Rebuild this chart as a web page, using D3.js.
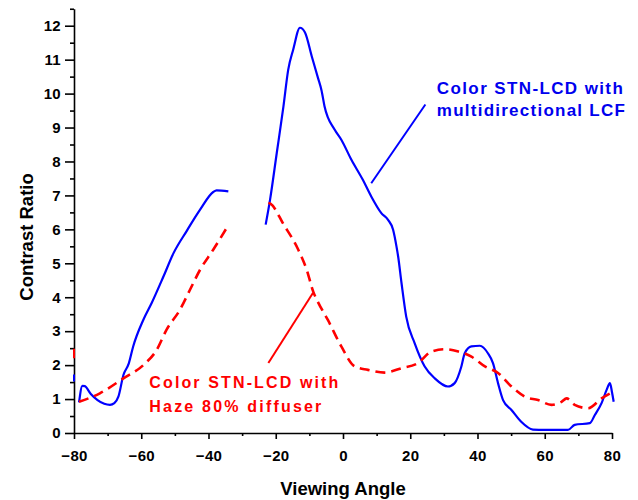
<!DOCTYPE html>
<html><head><meta charset="utf-8">
<script src="https://cdn.jsdelivr.net/npm/d3@7"></script>
<style>
body{margin:0;background:#fff;}
svg{display:block;font-family:"Liberation Sans",Arial,sans-serif;}
</style></head>
<body><svg id="c" width="638" height="500"></svg>
<script>
// ---- data ----
const xTicks = [-80,-60,-40,-20,0,20,40,60,80];
const xMinorTicks = [-70,-50,-30,-10,10,30,50,70];
const yTicks = [0,1,2,3,4,5,6,7,8,9,10,11,12];
const yMinorTicks = [0.5,1.5,2.5,3.5,4.5,5.5,6.5,7.5,8.5,9.5,10.5,11.5,12.5];

const lcfSeg1 = [[-78.5,0.9],[-77.5,1.39],[-76.8,1.38],[-75,1.15],[-73,0.97],[-71,0.86],[-69.3,0.83],[-68,0.88],[-66.8,1.07],[-65.3,1.71],[-63.7,2.05],[-62.4,2.55],[-59.4,3.33],[-56.9,3.83],[-53.4,4.61],[-50.4,5.3],[-46.5,5.95],[-42.5,6.58],[-38.6,7.1],[-37.6,7.15],[-34.1,7.12]];
const lcfSeg2 = [[-23.0,6.14],[-21.7,6.87],[-19.7,8.25],[-17.7,9.63],[-16.3,10.7],[-14.8,11.3],[-12.8,11.94],[-11.3,11.8],[-9.3,11.1],[-7.4,10.45],[-6.4,10.1],[-5.5,9.63],[-2.5,8.94],[-0.5,8.64],[2.5,8.05],[5.9,7.46],[8.4,6.97],[11.4,6.48],[13.4,6.28],[14.9,5.99],[15.9,5.5],[16.4,5.2],[17.4,4.42],[18.8,3.43],[21.3,2.65],[24.3,1.96],[27.3,1.61],[31.2,1.37],[33.2,1.47],[35.2,1.96],[36.2,2.35],[38.2,2.55],[40.7,2.57],[43.1,2.35],[44.6,2.06],[46.1,1.47],[47.6,0.97],[50.1,0.68],[53.0,0.33],[56.5,0.1],[60,0.09],[66.9,0.09],[68.9,0.24],[73.4,0.29],[74.9,0.53],[76.9,0.88],[78.4,1.27],[79.4,1.47],[80.0,1.2],[80.5,0.92]];
const lcfEdge = [[-80,1.72],[-80,1.52]];

const hazeSeg1 = [[-78.5,0.92],[-72.3,1.17],[-65.3,1.61],[-59.4,2.0],[-55.4,2.45],[-52.5,3.04],[-48.5,3.63],[-45.5,4.22],[-42.5,4.81],[-38.6,5.4],[-34.6,6.04]];
const hazeSeg2 = [[-22.2,6.78],[-21.5,6.75],[-17.7,6.15],[-13.3,5.4],[-10.8,4.81],[-8.8,4.15],[-7.4,3.85],[-4.5,3.33],[-0.5,2.55],[3.5,1.96],[7.4,1.86],[12.4,1.78],[17.4,1.91],[22.3,2.06],[26.3,2.4],[30.3,2.47],[34.3,2.4],[38.2,2.25],[42.2,1.96],[46.1,1.77],[50.1,1.37],[54.1,1.07],[58.0,0.97],[62.0,0.83],[65.0,0.92],[66.5,1.02],[68.9,0.83],[72.9,0.73],[76.9,1.02],[80.4,1.22]];
const hazeEdge = [[-80,2.48],[-80,2.2]];

const lcfPointer = [[8.4,7.36],[24.5,9.68]];
const hazePointer = [[-22.2,2.06],[-8.9,4.13]];
const lcfLabel = ["Color STN-LCD with","multidirectional LCF"];
const hazeLabel = ["Color STN-LCD with","Haze 80% diffuser"];
const lcfLabelAt = [27.9, 10.0];
const hazeLabelAt = [-57.6, 1.33];
const xTitle = "Viewing Angle";
const yTitle = "Contrast Ratio";

// ---- chart ----
const svg = d3.select("#c");
const x = d3.scaleLinear().domain([-80,80]).range([74,612]);
const y = d3.scaleLinear().domain([0,12.5]).range([433,8.75]);
const BLUE = "#0000ff", RED = "#ff0000";

// minor ticks
svg.append("g").attr("transform","translate(0,433)")
  .call(d3.axisBottom(x).tickValues(xMinorTicks).tickSize(3).tickSizeOuter(0).tickFormat(""))
  .call(g=>g.select(".domain").remove());
svg.append("g").attr("transform","translate(74,0)")
  .call(d3.axisLeft(y).tickValues(yMinorTicks).tickSize(4).tickSizeOuter(0).tickFormat(""))
  .call(g=>g.select(".domain").remove());

// major axes
const xa = svg.append("g").attr("transform","translate(0,433)")
  .call(d3.axisBottom(x).tickValues(xTicks).tickSize(6).tickSizeOuter(0).tickPadding(11));
const ya = svg.append("g").attr("transform","translate(74,0)")
  .call(d3.axisLeft(y).tickValues(yTicks).tickSize(9).tickSizeOuter(0).tickPadding(4));
svg.selectAll(".tick line, .domain").attr("stroke","#000").attr("stroke-width",1.6);
[xa,ya].forEach(a=>a.selectAll("text").attr("font-size",15).attr("font-weight","bold")
  .attr("fill","#000").attr("font-family","Liberation Sans, Arial, sans-serif").attr("letter-spacing","0.3px"));

// titles
svg.append("text").attr("x",x(0)).attr("y",495).attr("text-anchor","middle")
  .attr("font-size",18.5).attr("font-weight","bold").text(xTitle);
svg.append("text").attr("transform","translate(33,237) rotate(-90)").attr("text-anchor","middle")
  .attr("font-size",18.5).attr("font-weight","bold").text(yTitle);

const line = d3.line().x(d=>x(d[0])).y(d=>y(d[1])).curve(d3.curveMonotoneX);
const straight = d3.line().x(d=>x(d[0])).y(d=>y(d[1]));

// curves
[lcfSeg1, lcfSeg2].forEach(s=>svg.append("path").attr("d",line(s)).attr("fill","none")
  .attr("stroke",BLUE).attr("stroke-width",2.2).attr("stroke-linejoin","round"));
svg.append("path").attr("d",straight(lcfEdge)).attr("stroke",BLUE).attr("stroke-width",2);
[hazeSeg1, hazeSeg2].forEach(s=>svg.append("path").attr("d",line(s)).attr("fill","none")
  .attr("stroke",RED).attr("stroke-width",2.6).attr("stroke-dasharray","10,6"));
svg.append("path").attr("d",straight(hazeEdge)).attr("stroke",RED).attr("stroke-width",2);

// pointers
svg.append("path").attr("d",straight(lcfPointer)).attr("stroke",BLUE).attr("stroke-width",2);
svg.append("path").attr("d",straight(hazePointer)).attr("stroke",RED).attr("stroke-width",2);

// labels
const lcfW = [186,188], hazeW = [189,172];
lcfLabel.forEach((t,i)=>svg.append("text").attr("x",x(lcfLabelAt[0])).attr("y",y(lcfLabelAt[1])+i*22.5)
  .attr("font-size",17).attr("font-weight","bold").attr("fill","#0000ee")
  .attr("textLength",lcfW[i]).attr("lengthAdjust","spacing").text(t));
hazeLabel.forEach((t,i)=>svg.append("text").attr("x",x(hazeLabelAt[0])).attr("y",y(hazeLabelAt[1])+i*24)
  .attr("font-size",16).attr("font-weight","bold").attr("fill",RED)
  .attr("textLength",hazeW[i]).attr("lengthAdjust","spacing").text(t));
</script></body></html>
